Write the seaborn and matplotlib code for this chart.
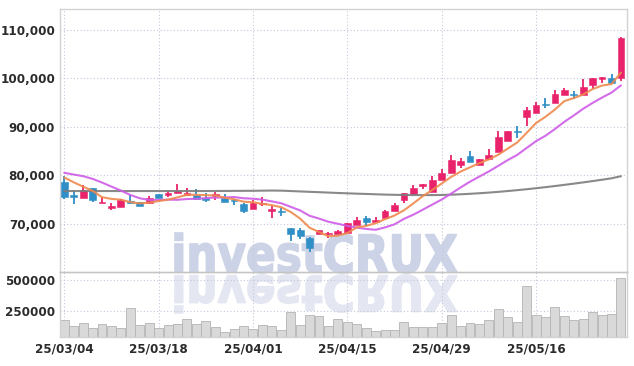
import numpy as np
import matplotlib
matplotlib.use("Agg")
import matplotlib.pyplot as plt
import seaborn as sns
from matplotlib.textpath import TextPath
from matplotlib.patches import PathPatch
from matplotlib.font_manager import FontProperties
from matplotlib.transforms import Affine2D, IdentityTransform
from matplotlib.ticker import FuncFormatter

# daily candles, 25/03/04 .. 25/05/29 (60 trading days)
opens = [78760, 76000, 75310, 77520, 74280, 73240, 73450, 74760, 74550, 74280,
         76280, 76070, 76390, 75970, 76040, 75420, 75690, 75350, 74860, 74100,
         73060, 74100, 72780, 72780, 69230, 68820, 67210, 68050, 67910, 67910,
         68260, 69860, 71180, 70350, 71250, 72600, 74900, 76240, 77850, 76640,
         79060, 80470, 82150, 83960, 82150, 83490, 84830, 87000, 89170, 92070,
         92900, 94760, 94970, 96550, 96760, 96480, 98550, 99930, 100140, 100000]
highs = [79860, 76760, 78070, 77520, 75520, 74410, 75170, 76000, 74550, 75790,
         76280, 76900, 78330, 77500, 77220, 76390, 76600, 76250, 75210, 74310,
         75000, 75560, 73680, 73400, 69230, 69230, 67350, 68750, 68470, 68820,
         70140, 71390, 71740, 71390, 72930, 74350, 76440, 77990, 78320, 79870,
         81280, 84300, 83690, 84970, 83490, 85370, 89190, 89250, 90280, 94070,
         95100, 95930, 97590, 98070, 97380, 99790, 100000, 100280, 100970, 108550]
lows = [75170, 74140, 75310, 74480, 74280, 72900, 73450, 74140, 73650, 74070,
        75310, 75520, 76390, 75970, 75210, 74510, 74860, 74510, 73960, 72360,
        73060, 73680, 71250, 71670, 66520, 66860, 64290, 68050, 67070, 67910,
        68260, 69860, 69650, 70350, 71250, 72600, 74430, 76240, 77320, 76640,
        79060, 80470, 81480, 82680, 82150, 83150, 84830, 87000, 87720, 90140,
        92900, 93930, 94970, 96550, 95790, 96480, 97720, 98970, 99100, 99450]
closes = [75520, 75650, 77030, 74900, 74620, 73720, 74900, 74410, 73650, 75380,
          75310, 76410, 76740, 76390, 75210, 75000, 76110, 74510, 74650, 72780,
          74440, 74440, 73190, 72500, 67910, 67560, 65120, 68750, 68120, 68610,
          70140, 70910, 70350, 70840, 72790, 73900, 76310, 77450, 78320, 79130,
          80470, 83150, 82950, 82680, 83490, 84300, 87990, 89250, 88900, 93380,
          94480, 94410, 96690, 97590, 96480, 98210, 100000, 100280, 99100, 108280]
volumes = [170000, 120000, 145000, 103000, 137000, 120000, 103000, 270000, 128000, 145000,
           103000, 128000, 137000, 178000, 137000, 162000, 112000, 70000, 95000, 120000,
           95000, 128000, 120000, 87000, 237000, 128000, 212000, 203000, 120000, 178000,
           155000, 137000, 103000, 78000, 87000, 87000, 155000, 112000, 112000, 112000,
           145000, 212000, 120000, 145000, 137000, 170000, 262000, 195000, 155000, 453000,
           212000, 195000, 278000, 203000, 170000, 178000, 237000, 212000, 220000, 520000]

# moving averages as drawn (5, 10 and 60 day)
ma5 = [79600, 78600, 77700, 76850, 75540, 75180, 75030, 74510, 74260, 74410,
       74730, 75030, 75500, 76050, 76010, 75950, 75890, 75440, 75100, 74610,
       74500, 74160, 73900, 73470, 72500, 71120, 69260, 68370, 67490, 67630,
       68150, 69310, 69630, 70170, 71010, 71760, 72840, 74260, 75750, 77020,
       78340, 79700, 80800, 81680, 82550, 83310, 84280, 85540, 86790, 88760,
       90800, 92080, 93570, 95310, 95930, 96680, 97790, 98510, 98810, 101170]
ma10 = [80550, 80200, 79860, 79310, 78550, 77720, 76900, 76000, 75310, 74980,
        74960, 75030, 75000, 75150, 75210, 75340, 75460, 75470, 75570, 75310,
        75220, 75030, 74670, 74280, 73550, 72810, 71710, 71130, 70480, 70060,
        69630, 69280, 69000, 68830, 69320, 69950, 71070, 71940, 72960, 74010,
        75050, 76270, 77530, 78720, 79790, 80830, 81990, 83170, 84230, 85660,
        87060, 88180, 89560, 91050, 92350, 93740, 94940, 96040, 97060, 98550]
ma60 = [76800, 76800, 76800, 76800, 76800, 76800, 76800, 76800, 76800, 76800,
        76800, 76800, 76800, 76800, 76800, 76800, 76810, 76820, 76830, 76840,
        76850, 76880, 76900, 76880, 76800, 76720, 76640, 76560, 76480, 76400,
        76330, 76260, 76200, 76130, 76070, 76020, 75990, 75970, 75960, 75970,
        75990, 76050, 76130, 76230, 76350, 76480, 76630, 76800, 76980, 77170,
        77380, 77600, 77830, 78070, 78320, 78580, 78850, 79130, 79420, 79850]

tick_labels = ["25/03/04", "25/03/18", "25/04/01", "25/04/15", "25/04/29", "25/05/16"]
price_ticks = [70000, 80000, 90000, 100000, 110000]
volume_ticks = [250000, 500000]

UP = "#e8236b"
DOWN = "#2f8fc6"
GRID = "#c3c8dc"
SPINE = "#d2d2d2"

sns.set_style("white")
plt.rcParams["font.family"] = ["DejaVu Sans"]
plt.rcParams["font.stretch"] = "condensed"
plt.rcParams["font.weight"] = "bold"

W, H = 634, 366
fig = plt.figure(figsize=(W / 100, H / 100), dpi=100)
left, right = 60, 627
ax = fig.add_axes([left / W, (H - 271.7) / H, (right - left) / W, 262.4 / H])
axv = fig.add_axes([left / W, (H - 337.3) / H, (right - left) / W, 65.6 / H])

x = np.arange(len(closes))
o = np.array(opens)
c = np.array(closes)
colors = np.where(c >= o, UP, DOWN)

# candles
ax.vlines(x, lows, highs, colors=colors, lw=1.3, zorder=2)
ax.bar(x, np.maximum(np.abs(c - o), 250), bottom=np.minimum(o, c), width=0.72,
       color=colors, edgecolor=colors, lw=0.4, zorder=3)

# moving averages
sns.lineplot(x=x, y=ma60, ax=ax, color="#7c7c7c", lw=1.5, alpha=0.9, zorder=4)
sns.lineplot(x=x, y=ma10, ax=ax, color="#cf5ce6", lw=1.5, alpha=0.9, zorder=4)
sns.lineplot(x=x, y=ma5, ax=ax, color="#ef8a4e", lw=1.5, alpha=0.9, zorder=5)

# volume
sns.barplot(x=x, y=volumes, ax=axv, native_scale=True, color="#d9d9d9",
            edgecolor="#b4b4b4", linewidth=0.6, width=0.95, saturation=1, zorder=2)

for a in (ax, axv):
    a.set_facecolor("none")
    a.set_xlim(-0.45, 59.64)
    a.set_xticks(range(0, 60, 10))
    a.set_axisbelow(True)
    a.grid(True, color=GRID, lw=0.8, ls=(0, (1, 2)))
    a.tick_params(length=0, labelsize=9.5, labelcolor="#2b2b2b", pad=3.5)
    a.set_xlabel("")
    a.set_ylabel("")
    for s in a.spines.values():
        s.set_color(SPINE)
        s.set_linewidth(1)

ax.set_ylim(60200, 114200)
ax.set_yticks(price_ticks)
ax.yaxis.set_major_formatter(FuncFormatter(lambda v, p: f"{v:,.0f}"))
ax.set_xticklabels([])

axv.set_ylim(28000, 572000)
axv.set_yticks(volume_ticks)
axv.set_yticklabels([str(v) for v in volume_ticks])
axv.set_xticklabels(tick_labels)
axv.spines["top"].set_color("#c4c4c4")

# watermark and its mirror image
fp = FontProperties(family="DejaVu Sans", weight="bold", stretch="normal")
tp = TextPath((0, 0), "investCRUX", size=100, prop=fp)
bb = tp.get_extents()
x0, x1 = 175, 457
sx = (x1 - x0) / bb.width
mark = Affine2D().translate(-bb.x0, -bb.y0).scale(sx, 40 / bb.height).translate(x0, H - 273)
mirror = Affine2D().translate(-bb.x0, -bb.y0).scale(sx, -38 / bb.height).translate(x0, H - 275)
for tr, col in ((mark, "#cdd3e7"), (mirror, "#e4e7f1")):
    fig.add_artist(PathPatch(tr.transform_path(tp), fc=col, ec=col, lw=1.2, zorder=-1,
                             transform=IdentityTransform()))

fig.savefig("out.png", dpi=100)
